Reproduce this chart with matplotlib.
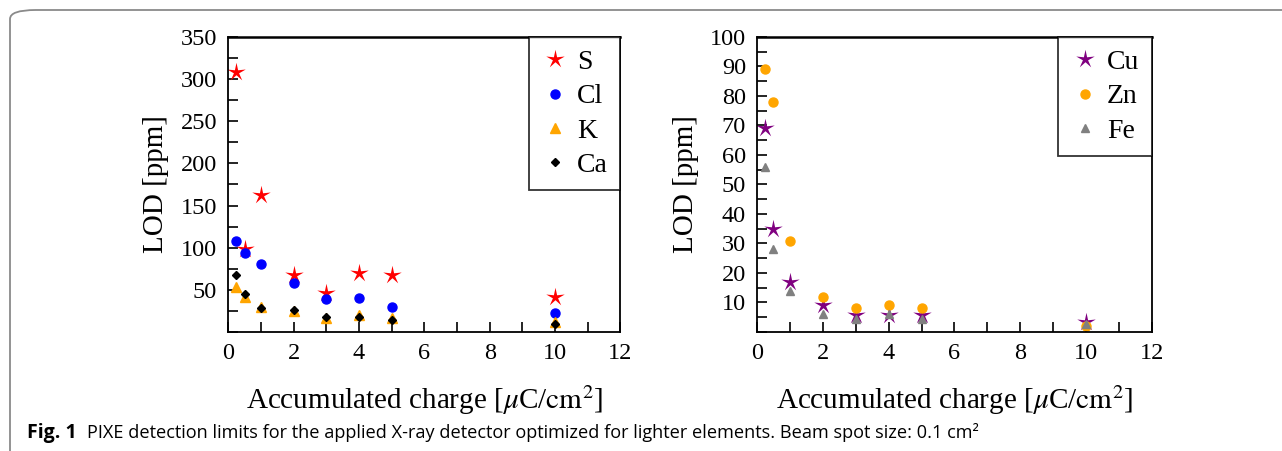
import matplotlib.pyplot as plt
import numpy as np
from matplotlib.patches import FancyBboxPatch
from matplotlib.ticker import MultipleLocator, FuncFormatter

plt.rcParams['font.family'] = ['Liberation Serif', 'DejaVu Serif']
plt.rcParams['mathtext.fontset'] = 'stix'

# Accumulated charge [uC/cm2]
charge = [0.25, 0.5, 1, 2, 3, 4, 5, 10]

# Light elements (left panel)
lod_S = [309, 98, 162, 68, 46, 70, 67, 42]
lod_Cl = [108, 94, 81, 58, 39, 40, 30, 22]
lod_K = [53, 42, 29, 25, 17, 20, 16, 12]
lod_Ca = [67, 45, 28, 26, 18, 18, 14, 9]

# Heavier elements (right panel)
lod_Cu = [69, 35, 17, 9, 5.7, 5.9, 5.7, 3.2]
lod_Zn = [89, 78, 31, 12, 8, 9, 8, 2]
lod_Fe = [56, 28, 14, 6.2, 4.3, 6, 4.3, 2.8]

# thin five-pointed star like the original plot
ang = np.pi / 2 + np.arange(10) * np.pi / 5
rad = np.where(np.arange(10) % 2 == 0, 1.0, 0.28)
star = list(zip(rad * np.cos(ang), rad * np.sin(ang)))

fig = plt.figure(figsize=(12.82, 4.51), dpi=100)

# rounded frame around the figure
frame = FancyBboxPatch((10 / 1282, -20 / 451), 1300 / 1282, 461 / 451,
                       boxstyle='round,pad=0,rounding_size=0.02',
                       transform=fig.transFigure, fill=False,
                       edgecolor='#8a8a8a', linewidth=1.3, clip_on=False)
fig.patches.append(frame)

ax1 = fig.add_axes([0.178, 0.264, 0.306, 0.654])
ax2 = fig.add_axes([0.5905, 0.264, 0.308, 0.654])

ax1.plot(charge, lod_S, linestyle='none', marker=star, markersize=14,
         color='red', markeredgewidth=0, label='S')
ax1.plot(charge, lod_Cl, linestyle='none', marker='o', markersize=6.5,
         color='blue', label='Cl')
ax1.plot(charge, lod_K, linestyle='none', marker='^', markersize=7,
         color='orange', label='K')
ax1.plot(charge, lod_Ca, linestyle='none', marker='D', markersize=4.5,
         color='black', label='Ca')
ax1.set_ylim(0, 350)
ax1.yaxis.set_major_locator(MultipleLocator(50))
ax1.yaxis.set_minor_locator(MultipleLocator(25))

ax2.plot(charge, lod_Cu, linestyle='none', marker=star, markersize=14,
         color='purple', markeredgewidth=0, label='Cu')
ax2.plot(charge, lod_Zn, linestyle='none', marker='o', markersize=6.5,
         color='orange', label='Zn')
ax2.plot(charge, lod_Fe, linestyle='none', marker='^', markersize=6,
         color='gray', label='Fe')
ax2.set_ylim(0, 100)
ax2.yaxis.set_major_locator(MultipleLocator(10))
ax2.yaxis.set_minor_locator(MultipleLocator(5))

no_zero = FuncFormatter(lambda v, pos: '' if v == 0 else f'{v:g}')

for ax in (ax1, ax2):
    ax.set_xlim(0, 12)
    ax.xaxis.set_major_locator(MultipleLocator(2))
    ax.xaxis.set_minor_locator(MultipleLocator(1))
    ax.yaxis.set_major_formatter(no_zero)
    ax.tick_params(which='both', direction='in', labelsize=17.5,
                   top=False, right=False, width=1.2)
    ax.tick_params(which='major', length=7, pad=8)
    ax.tick_params(which='minor', length=7)
    for s in ax.spines.values():
        s.set_linewidth(1.3)
    ax.spines['top'].set_linewidth(1.8)
    ax.set_ylabel('LOD [ppm]', fontsize=21, labelpad=8)
    ax.set_xlabel(r'Accumulated charge [$\mu$C/$\mathrm{cm}^2$]',
                  fontsize=21, labelpad=14)
    leg = ax.legend(loc='upper right', fontsize=20, frameon=True,
                    fancybox=False, edgecolor='black', handletextpad=0.3,
                    borderaxespad=0, handlelength=1.0, borderpad=0.45,
                    labelspacing=0.32)
    leg.get_frame().set_linewidth(1.3)

fig.text(27 / 1282, 1 - 438 / 451, 'Fig. 1', fontsize=14, fontweight='bold',
         family=['Open Sans', 'DejaVu Sans'], va='baseline')
fig.text(87 / 1282, 1 - 438 / 451,
         'PIXE detection limits for the applied X-ray detector optimized for '
         'lighter elements. Beam spot size: 0.1 cm²',
         fontsize=13.1, family=['Open Sans', 'DejaVu Sans'], va='baseline')

fig.savefig('out.png', dpi=100)
